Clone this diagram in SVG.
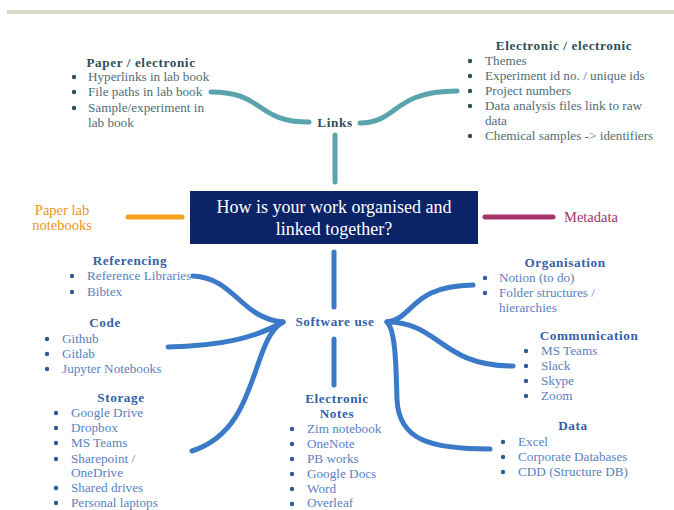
<svg xmlns="http://www.w3.org/2000/svg" width="674" height="510" viewBox="0 0 674 510" font-family="'Liberation Serif', 'Times New Roman', 'DejaVu Serif', serif">
<style>
text{font-family:'Liberation Serif','Times New Roman','DejaVu Serif',serif;font-size:13.2px}
.t{font-weight:bold;text-anchor:middle;letter-spacing:0.6px}
.tl{fill:#2f4f58}
.il{fill:#4f6e76}
.tb{fill:#3461a8}
.ib{fill:#5a82bf}
.bl{fill:#2f4f58}
.bb{fill:#2f5a9a}
.c{fill:none;stroke-width:5;stroke-linecap:round}
.teal{stroke:#5aa4ae}
.blue{stroke:#3b7ac8}
.side{font-size:14.5px;text-anchor:middle}
</style>
<rect x="7" y="10" width="667" height="4" fill="#ddd8c7"/>
<g id="connectors">
<path class="c teal" d="M211,92 C265,92 255,122 309,122"/>
<path class="c teal" d="M360,123 C398,123 392,91 457,91"/>
<path class="c teal" d="M335,135 V182"/>
<path class="c" stroke="#f7a31e" d="M128,217 H182"/>
<path class="c" stroke="#a3346c" d="M485,217 H553"/>
<path class="c blue" d="M334,252 V307"/>
<path class="c blue" d="M334,339 V385"/>
<path class="c blue" d="M193,276 C235,278 240,318 283,322"/>
<path class="c blue" d="M168,347 C220,346 255,338 283,322"/>
<path class="c blue" d="M192,451 C260,430 250,340 283,322"/>
<path class="c blue" d="M387,322 C415,318 410,286 473,285"/>
<path class="c blue" d="M387,322 C440,322 440,366 513,366"/>
<path class="c blue" d="M387,322 C395,330 396,360 397,400 C399,440 430,449 490,449"/>
</g>
<g id="central">
<rect x="190" y="191" width="288" height="53" fill="#0b2367"/>
<text x="334" y="213" fill="#ffffff" style="font-size:18px;text-anchor:middle">How is your work organised and</text>
<text x="334" y="235" fill="#ffffff" style="font-size:18px;text-anchor:middle">linked together?</text>
</g>
<g id="links">
<text class="t tl" x="335" y="127">Links</text>
</g>
<g id="paper-electronic">
<text class="t tl" x="141" y="67">Paper / electronic</text>
<circle class="bl" cx="74" cy="77" r="2.2"/><text class="il" x="88" y="81">Hyperlinks in lab book</text>
<circle class="bl" cx="74" cy="92" r="2.2"/><text class="il" x="88" y="96">File paths in lab book</text>
<circle class="bl" cx="74" cy="108" r="2.2"/><text class="il" x="88" y="112">Sample/experiment in</text>
<text class="il" x="88" y="127">lab book</text>
</g>
<g id="electronic-electronic">
<text class="t tl" x="564" y="50">Electronic / electronic</text>
<circle class="bl" cx="470" cy="61" r="2.2"/><text class="il" x="485" y="65">Themes</text>
<circle class="bl" cx="470" cy="76" r="2.2"/><text class="il" x="485" y="80">Experiment id no. / unique ids</text>
<circle class="bl" cx="470" cy="91" r="2.2"/><text class="il" x="485" y="95">Project numbers</text>
<circle class="bl" cx="470" cy="106" r="2.2"/><text class="il" x="485" y="110">Data analysis files link to raw</text>
<text class="il" x="485" y="125">data</text>
<circle class="bl" cx="470" cy="136" r="2.2"/><text class="il" x="485" y="140">Chemical samples -&gt; identifiers</text>
</g>
<g id="paper-lab">
<text class="side" x="62" y="215" fill="#ee9520">Paper lab</text>
<text class="side" x="62" y="230" fill="#ee9520">notebooks</text>
</g>
<g id="metadata">
<text class="side" x="591" y="222" fill="#a3346c">Metadata</text>
</g>
<g id="software">
<text class="t tb" x="335" y="326">Software use</text>
</g>
<g id="referencing">
<text class="t tb" x="130" y="265">Referencing</text>
<circle class="bb" cx="72" cy="276" r="2.2"/><text class="ib" x="87" y="280">Reference Libraries</text>
<circle class="bb" cx="72" cy="292" r="2.2"/><text class="ib" x="87" y="296">Bibtex</text>
</g>
<g id="code">
<text class="t tb" x="105" y="327">Code</text>
<circle class="bb" cx="47" cy="339" r="2.2"/><text class="ib" x="62" y="343">Github</text>
<circle class="bb" cx="47" cy="354" r="2.2"/><text class="ib" x="62" y="358">Gitlab</text>
<circle class="bb" cx="47" cy="369" r="2.2"/><text class="ib" x="62" y="373">Jupyter Notebooks</text>
</g>
<g id="storage">
<text class="t tb" x="121" y="402">Storage</text>
<circle class="bb" cx="56" cy="413" r="2.2"/><text class="ib" x="71" y="417">Google Drive</text>
<circle class="bb" cx="56" cy="428" r="2.2"/><text class="ib" x="71" y="432">Dropbox</text>
<circle class="bb" cx="56" cy="443" r="2.2"/><text class="ib" x="71" y="447">MS Teams</text>
<circle class="bb" cx="56" cy="459" r="2.2"/><text class="ib" x="71" y="463">Sharepoint /</text>
<text class="ib" x="71" y="477">OneDrive</text>
<circle class="bb" cx="56" cy="488" r="2.2"/><text class="ib" x="71" y="492">Shared drives</text>
<circle class="bb" cx="56" cy="503" r="2.2"/><text class="ib" x="71" y="507">Personal laptops</text>
</g>
<g id="electronic-notes">
<text class="t tb" x="337" y="403">Electronic</text>
<text class="t tb" x="337" y="418">Notes</text>
<circle class="bb" cx="292" cy="429" r="2.2"/><text class="ib" x="307" y="433">Zim notebook</text>
<circle class="bb" cx="292" cy="444" r="2.2"/><text class="ib" x="307" y="448">OneNote</text>
<circle class="bb" cx="292" cy="459" r="2.2"/><text class="ib" x="307" y="463">PB works</text>
<circle class="bb" cx="292" cy="474" r="2.2"/><text class="ib" x="307" y="478">Google Docs</text>
<circle class="bb" cx="292" cy="489" r="2.2"/><text class="ib" x="307" y="493">Word</text>
<circle class="bb" cx="292" cy="504" r="2.2"/><text class="ib" x="307" y="507">Overleaf</text>
</g>
<g id="organisation">
<text class="t tb" x="565" y="267">Organisation</text>
<circle class="bb" cx="485" cy="278" r="2.2"/><text class="ib" x="499" y="282">Notion (to do)</text>
<circle class="bb" cx="485" cy="293" r="2.2"/><text class="ib" x="499" y="297">Folder structures /</text>
<text class="ib" x="499" y="312">hierarchies</text>
</g>
<g id="communication">
<text class="t tb" x="589" y="340">Communication</text>
<circle class="bb" cx="526" cy="351" r="2.2"/><text class="ib" x="541" y="355">MS Teams</text>
<circle class="bb" cx="526" cy="366" r="2.2"/><text class="ib" x="541" y="370">Slack</text>
<circle class="bb" cx="526" cy="381" r="2.2"/><text class="ib" x="541" y="385">Skype</text>
<circle class="bb" cx="526" cy="396" r="2.2"/><text class="ib" x="541" y="400">Zoom</text>
</g>
<g id="data">
<text class="t tb" x="573" y="430">Data</text>
<circle class="bb" cx="503" cy="442" r="2.2"/><text class="ib" x="518" y="446">Excel</text>
<circle class="bb" cx="503" cy="457" r="2.2"/><text class="ib" x="518" y="461">Corporate Databases</text>
<circle class="bb" cx="503" cy="472" r="2.2"/><text class="ib" x="518" y="476">CDD (Structure DB)</text>
</g>
</svg>
